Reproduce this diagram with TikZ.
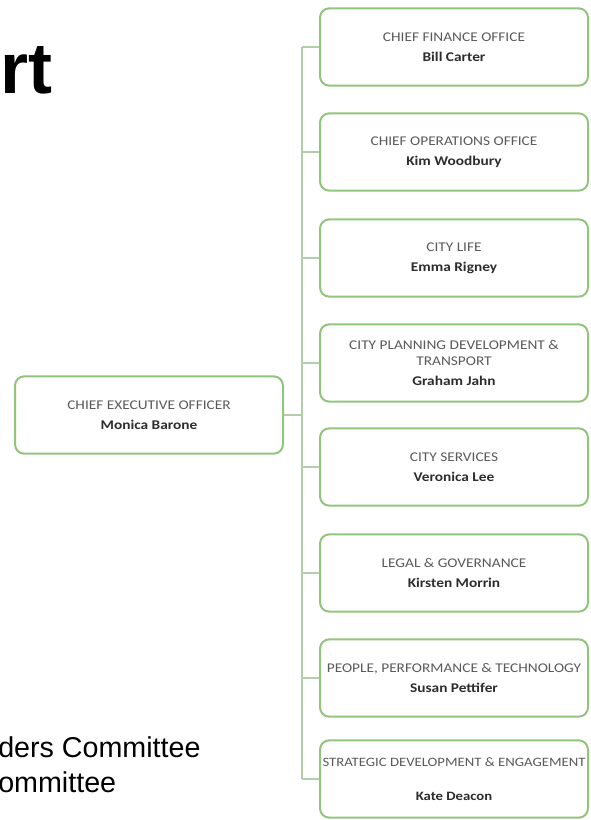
\documentclass[tikz,border=0pt]{standalone}
\usepackage{fontspec}
\setmainfont{Carlito}[FakeStretch=1.15]
\newfontfamily\slidefont{Liberation Sans}
\usetikzlibrary{calc}
\definecolor{boxgreen}{RGB}{146,196,125}
\definecolor{linegreen}{RGB}{180,205,170}
\definecolor{titlegray}{RGB}{90,90,90}
\definecolor{namegray}{RGB}{45,45,45}

\begin{document}
\begin{tikzpicture}[x=0.75pt,y=-0.75pt,
    unit/.style={draw=boxgreen, line width=1.5pt, rounded corners=7pt, fill=white,
      minimum width=201pt, minimum height=58pt, inner sep=2pt, align=center,
      text=titlegray, font=\fontsize{10}{12}\selectfont},
    link/.style={draw=linegreen, line width=1.1pt}]
    \useasboundingbox (0,0) rectangle (591,820);

    % slide text, cut off at the left
    \node (title) at (0,94) [anchor=base west, inner sep=0pt] {\slidefont\bfseries\fontsize{54}{58}\selectfont rt};
    \node (cmtone) at (-2,757) [anchor=base west, inner sep=0pt] {\slidefont\fontsize{21.5}{25}\selectfont ders Committee};
    \node (cmttwo) at (-2,792) [anchor=base west, inner sep=0pt] {\slidefont\fontsize{21.5}{25}\selectfont ommittee};

    \node (ceo) at (149,415) [unit] {CHIEF EXECUTIVE OFFICER\\[3pt]\textcolor{namegray}{\bfseries Monica Barone}};

    \node (cfo) at (454,47) [unit] {CHIEF FINANCE OFFICE\\[3pt]\textcolor{namegray}{\bfseries Bill Carter}};
    \node (coo) at (454,152) [unit] {CHIEF OPERATIONS OFFICE\\[3pt]\textcolor{namegray}{\bfseries Kim Woodbury}};
    \node (life) at (454,258) [unit] {CITY LIFE\\[3pt]\textcolor{namegray}{\bfseries Emma Rigney}};
    \node (plan) at (454,363) [unit] {CITY PLANNING DEVELOPMENT \&\\TRANSPORT\\[3pt]\textcolor{namegray}{\bfseries Graham Jahn}};
    \node (serv) at (454,467) [unit] {CITY SERVICES\\[3pt]\textcolor{namegray}{\bfseries Veronica Lee}};
    \node (legal) at (454,573) [unit] {LEGAL \& GOVERNANCE\\[3pt]\textcolor{namegray}{\bfseries Kirsten Morrin}};
    \node (ppt) at (454,678) [unit] {PEOPLE, PERFORMANCE \& TECHNOLOGY\\[3pt]\textcolor{namegray}{\bfseries Susan Pettifer}};
    \node (strat) at (454,779) [unit, inner sep=1pt, font=\fontsize{9.6}{12}\selectfont] {STRATEGIC DEVELOPMENT \& ENGAGEMENT\\[14pt]\textcolor{namegray}{\bfseries Kate Deacon}};

    \coordinate (spine) at (302,415);

    \draw[link] (cfo.west -| spine) -- (strat.west -| spine);
    \draw[link] (ceo.east) -- (ceo.east -| spine);
    \draw[link] (cfo.west) -- (cfo.west -| spine);
    \draw[link] (coo.west) -- (coo.west -| spine);
    \draw[link] (life.west) -- (life.west -| spine);
    \draw[link] (plan.west) -- (plan.west -| spine);
    \draw[link] (serv.west) -- (serv.west -| spine);
    \draw[link] (legal.west) -- (legal.west -| spine);
    \draw[link] (ppt.west) -- (ppt.west -| spine);
    \draw[link] (strat.west) -- (strat.west -| spine);
\end{tikzpicture}
\end{document}
